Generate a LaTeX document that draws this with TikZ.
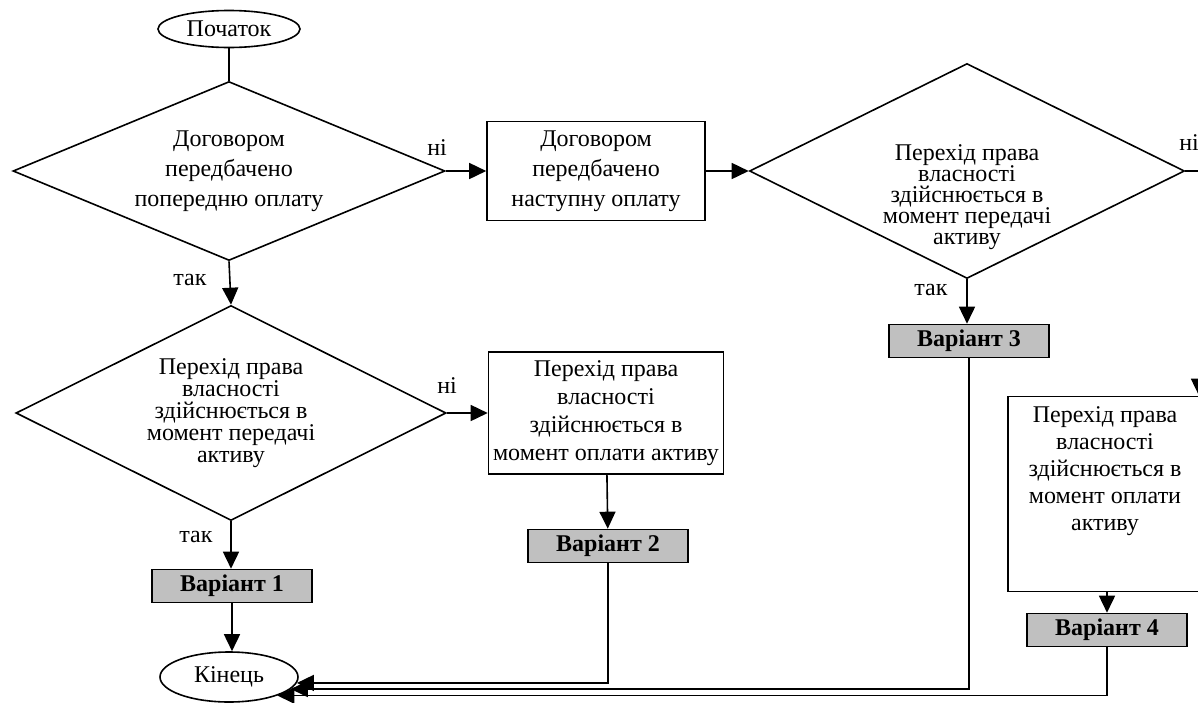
\documentclass[tikz,border=0pt]{standalone}
\usepackage{fontspec}
\setmainfont{Liberation Serif}
\usetikzlibrary{shapes.geometric, arrows.meta, positioning, calc}
\definecolor{varfill}{HTML}{C0C0C0}

\begin{document}
\begin{tikzpicture}[
  x=0.5pt, y=-0.5pt,
  term/.style={draw, ellipse, line width=0.8pt, inner sep=0pt, font=\fontsize{12}{14}\selectfont},
  decision/.style={draw, diamond, aspect=2.4, line width=0.8pt, inner sep=0pt, align=center, font=\fontsize{12}{15}\selectfont},
  tightdecision/.style={decision, font=\fontsize{12}{11}\selectfont},
  process/.style={draw, rectangle, line width=0.8pt, inner sep=1pt, align=center},
  variant/.style={draw, rectangle, fill=varfill, line width=0.8pt, minimum width=80pt, minimum height=16.5pt, inner sep=0pt, font=\fontsize{12}{14}\selectfont\bfseries},
  answer/.style={inner sep=1pt, font=\fontsize{12}{14}\selectfont},
  arrow/.style={-{Triangle[length=8.5pt,width=8pt]}, line width=0.8pt},
  conn/.style={line width=0.8pt}
]
\useasboundingbox (0,0) rectangle (1198,702);

% Nodes
\node[term, minimum width=71pt, minimum height=18.5pt] (start) at (229,29) {Початок};
\node[decision, minimum width=216pt, minimum height=89.5pt] (prepay) at (229,171) {Договором\\передбачено\\попередню оплату};
\node[tightdecision, minimum width=215pt, minimum height=107.5pt] (transfer2) at (231,413) {Перехід права\\власності\\здійснюється в\\момент передачі\\активу};
\node[process, minimum width=117.5pt, minimum height=61pt, font=\fontsize{12}{14}\selectfont] (paid2) at (606,413) {Перехід права\\власності\\здійснюється в\\момент оплати активу};
\node[variant] (var1) at (232,586) {Варіант 1};
\node[variant] (var2) at (608,546) {Варіант 2};
\node[term, minimum width=69pt, minimum height=25pt] (kin) at (229,677) {Кінець};

\node[process, minimum width=109pt, minimum height=49.5pt, font=\fontsize{12}{15}\selectfont] (postpay) at (596,171) {Договором\\передбачено\\наступну оплату};
\node[draw, diamond, line width=0.8pt, minimum width=217.5pt, minimum height=107.5pt, inner sep=0pt] (transfer3) at (967,171) {};
\node[align=center, inner sep=0pt, font=\fontsize{12}{10.5}\selectfont] (transfer3text) at (967,197) {Перехід права\\власності\\здійснюється в\\момент передачі\\активу};
\node[variant] (var3) at (969,341) {Варіант 3};
\node[draw, rectangle, line width=0.8pt, minimum width=97pt, minimum height=97.5pt] (paid4) at (1105,494) {};
\node[align=center, inner sep=0pt, font=\fontsize{12}{13.5}\selectfont, below=5pt of paid4.north] (paid4text) {Перехід права\\власності\\здійснюється в\\момент оплати\\активу};
\node[variant] (var4) at (1107,630) {Варіант 4};

\coordinate (exitR) at (1210,171);
\coordinate (entryR) at (1199,330);

% Arrows
\draw[conn] (start) -- (prepay);
\draw[arrow] (prepay.east) -- (postpay.west);
\draw[arrow] (prepay.south) -- (transfer2.north);
\draw[arrow] (transfer2.east) -- (paid2.west);
\draw[arrow] (paid2) -- (var2);
\draw[arrow] (transfer2.south) -- (transfer2.south |- var1.north);
\draw[arrow] (var1) -- (var1 |- kin.north);
\draw[arrow] (postpay.east) -- (transfer3.west);
\draw[arrow] (transfer3.south) -- (transfer3.south |- var3.north);
\draw[conn] (transfer3.east) -- (exitR);
\draw[arrow] (entryR) -- (entryR |- paid4.north);
\draw[arrow] (paid4.south -| var4) -- (var4.north);
\draw[arrow] (var2.south) |- (kin.-5);
\draw[arrow] (var3.south) |- (kin.-11);
\draw[arrow] (var4.south) |- (kin.-21);

% Labels
\node[answer] at (437,148) {ні};
\node[answer] at (447,386) {ні};
\node[answer] at (1189,143) {ні};
\node[answer] at (190,280) {так};
\node[answer] at (196,537) {так};
\node[answer] at (931,290) {так};

\end{tikzpicture}
\end{document}
